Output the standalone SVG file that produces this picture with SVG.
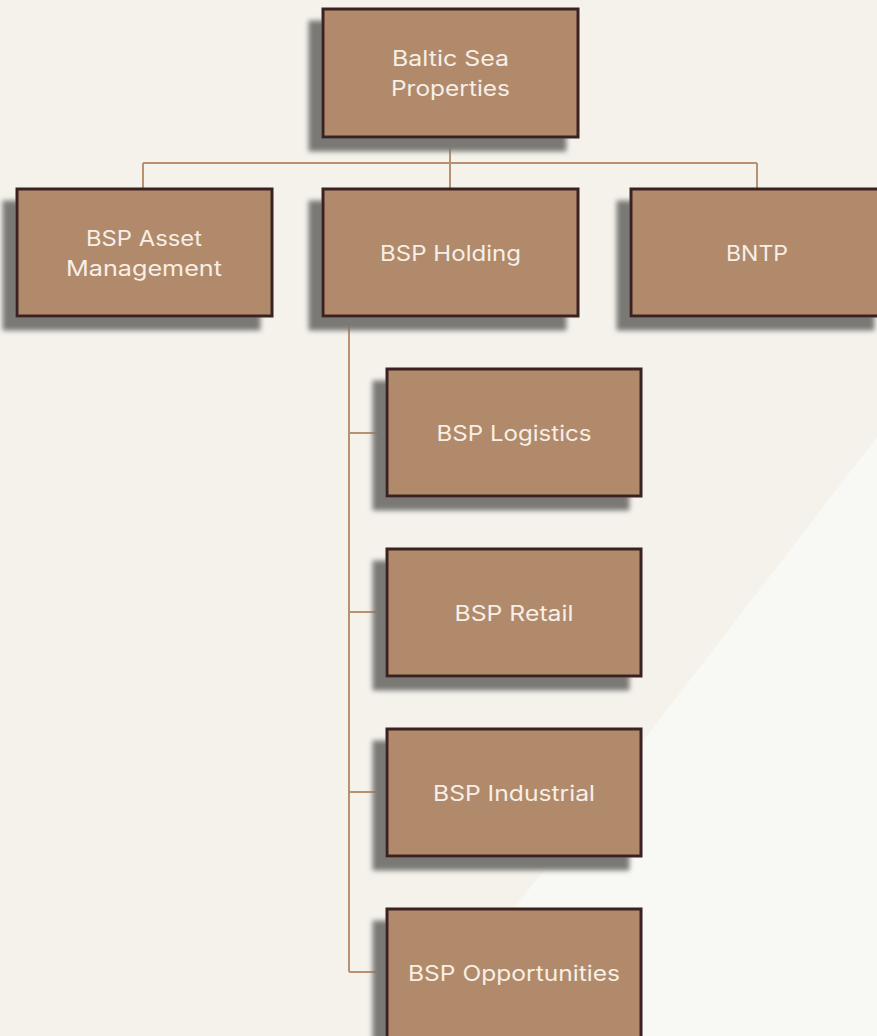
<svg xmlns="http://www.w3.org/2000/svg" width="877" height="1036" viewBox="0 0 877 1036">
<style>
.box{fill:#b08a6b;stroke:#3a2424;stroke-width:3;filter:url(#sh)}
.lbl{font-family:Inter,"Noto Sans","DejaVu Sans",sans-serif;font-size:21px;fill:#f7efe7;text-anchor:middle}
.conn{stroke:#b99171;stroke-width:2;fill:none}
</style>
<defs>
<filter id="sh" x="-20%" y="-20%" width="140%" height="140%">
<feGaussianBlur in="SourceAlpha" stdDeviation="2.5" result="b"/>
<feOffset in="b" dx="-13" dy="13" result="o"/>
<feFlood flood-color="#7a7975"/>
<feComposite in2="o" operator="in" result="s"/>
<feMerge><feMergeNode in="s"/><feMergeNode in="SourceGraphic"/></feMerge>
</filter>
</defs>
<rect width="877" height="1036" fill="#f5f2ec"/>
<polygon points="877,437 877,1036 416,1036" fill="#f8f8f4"/>
<g id="connectors">
<path class="conn" d="M450,137V189M143,163H757M143,163V189M757,163V189"/>
<path class="conn" d="M349,316V972M349,433H387M349,612H387M349,792H387M349,972H387"/>
</g>
<g id="n-bsp-root">
<rect class="box" x="323" y="9" width="255" height="128"/>
<text class="lbl" x="450.5" y="66" textLength="117" lengthAdjust="spacingAndGlyphs">Baltic Sea</text>
<text class="lbl" x="450.5" y="96" textLength="119" lengthAdjust="spacingAndGlyphs">Properties</text>
</g>
<g id="n-asset">
<rect class="box" x="17" y="189" width="255" height="127"/>
<text class="lbl" x="144" y="246" textLength="116" lengthAdjust="spacingAndGlyphs">BSP Asset</text>
<text class="lbl" x="144" y="276" textLength="156" lengthAdjust="spacingAndGlyphs">Management</text>
</g>
<g id="n-holding">
<rect class="box" x="323" y="189" width="255" height="127"/>
<text class="lbl" x="450.5" y="261" textLength="141" lengthAdjust="spacingAndGlyphs">BSP Holding</text>
</g>
<g id="n-bntp">
<rect class="box" x="631" y="189" width="255" height="127"/>
<text class="lbl" x="757" y="261" textLength="62" lengthAdjust="spacingAndGlyphs">BNTP</text>
</g>
<g id="n-logistics">
<rect class="box" x="387" y="369" width="254" height="127"/>
<text class="lbl" x="514" y="441" textLength="155" lengthAdjust="spacingAndGlyphs">BSP Logistics</text>
</g>
<g id="n-retail">
<rect class="box" x="387" y="549" width="254" height="127"/>
<text class="lbl" x="514" y="621" textLength="119" lengthAdjust="spacingAndGlyphs">BSP Retail</text>
</g>
<g id="n-industrial">
<rect class="box" x="387" y="729" width="254" height="127"/>
<text class="lbl" x="514" y="801" textLength="162" lengthAdjust="spacingAndGlyphs">BSP Industrial</text>
</g>
<g id="n-opportunities">
<rect class="box" x="387" y="909" width="254" height="140"/>
<text class="lbl" x="514" y="981" textLength="212" lengthAdjust="spacingAndGlyphs">BSP Opportunities</text>
</g>
</svg>
